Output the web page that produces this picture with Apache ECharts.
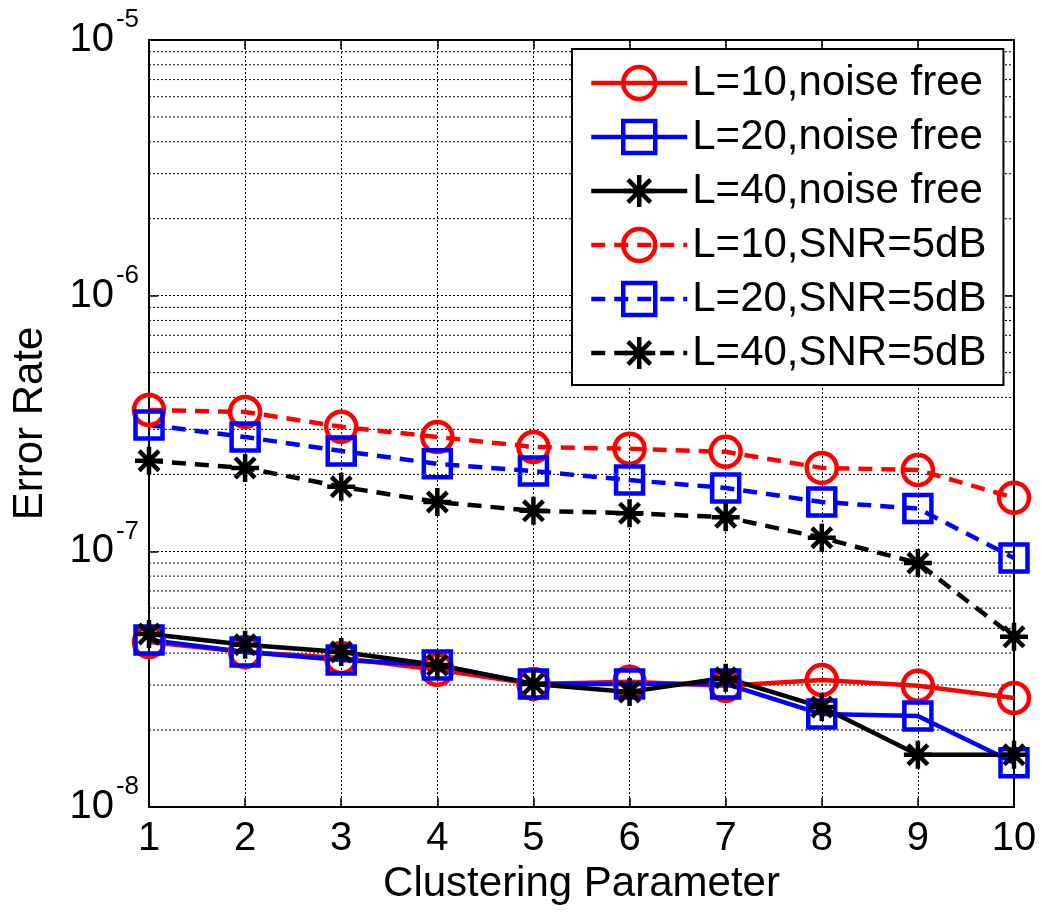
<!DOCTYPE html>
<html>
<head>
<meta charset="utf-8">
<script src="https://cdn.jsdelivr.net/npm/echarts@6/dist/echarts.min.js"></script>
<style>
html,body{margin:0;padding:0;background:#fff;}
#chart{width:1042px;height:915px;}
</style>
</head>
<body>
<div id="chart"></div>
<script>
const xValues = [1, 2, 3, 4, 5, 6, 7, 8, 9, 10];
const l10Free = [4.42e-8, 4.04e-8, 3.83e-8, 3.44e-8, 3.03e-8, 3.09e-8, 2.98e-8, 3.14e-8, 2.98e-8, 2.67e-8];
const l20Free = [4.50e-8, 4.04e-8, 3.76e-8, 3.59e-8, 3.03e-8, 3.03e-8, 3.03e-8, 2.31e-8, 2.27e-8, 1.49e-8];
const l40Free = [4.75e-8, 4.31e-8, 4.04e-8, 3.59e-8, 3.03e-8, 2.82e-8, 3.20e-8, 2.46e-8, 1.60e-8, 1.60e-8];
const l10Snr = [3.57e-7, 3.51e-7, 3.07e-7, 2.80e-7, 2.56e-7, 2.52e-7, 2.45e-7, 2.12e-7, 2.08e-7, 1.62e-7];
const l20Snr = [3.12e-7, 2.80e-7, 2.47e-7, 2.20e-7, 2.06e-7, 1.90e-7, 1.77e-7, 1.56e-7, 1.47e-7, 9.42e-8];
const l40Snr = [2.26e-7, 2.12e-7, 1.79e-7, 1.56e-7, 1.44e-7, 1.41e-7, 1.36e-7, 1.13e-7, 9.0e-8, 4.63e-8];
const seriesNames = ['L=10,noise free', 'L=20,noise free', 'L=40,noise free',
                     'L=10,SNR=5dB', 'L=20,SNR=5dB', 'L=40,SNR=5dB'];
const decades = [1e-8, 1e-7, 1e-6];
const minorMultipliers = [2, 3, 4, 5, 6, 7, 8, 9];

const FONT = '"Liberation Sans", Arial, sans-serif';
const RED = '#ff0000', BLUE = '#0000ff', BLACK = '#000000';
const STAR = 'path://M0,-10L0,10M-10,0L10,0M-7.07,-7.07L7.07,7.07M-7.07,7.07L7.07,-7.07';

function pairs(arr) { return xValues.map((x, i) => [x, arr[i]]); }

function mkSeries(name, arr, color, symbol, dashed) {
  const isStar = symbol === STAR;
  return {
    name: name,
    type: 'line',
    data: pairs(arr),
    yAxisIndex: 0,
    symbol: symbol,
    symbolSize: isStar ? 28 : (symbol === 'rect' ? 27 : 30),
    showAllSymbol: true,
    z: 3,
    lineStyle: { color: color, width: 4.5, type: dashed ? [14, 9] : 'solid' },
    itemStyle: { color: isStar ? color : 'rgba(0,0,0,0)', borderColor: color, borderWidth: 4.5 },
    emphasis: { disabled: true },
    animation: false
  };
}

// minor (log) grid lines: one dotted horizontal line per minor value, spanning the x range
const xMin = xValues[0], xMax = xValues[xValues.length - 1];
const minorSeries = [];
decades.forEach(d => minorMultipliers.forEach(m => {
  const v = d * m;
  minorSeries.push({
    type: 'line', data: [[xMin, v], [xMax, v]], yAxisIndex: 0,
    symbol: 'none', silent: true, z: 1, animation: false,
    lineStyle: { color: '#000', width: 1, type: [2, 2] },
    emphasis: { disabled: true }, tooltip: { show: false }
  });
}));

const gridDotted = { show: true, lineStyle: { color: '#000', width: 1, type: [2, 2] } };
const tickStyle = { show: true, inside: true, length: 9, lineStyle: { color: '#000', width: 1.5 } };

const option = {
  backgroundColor: '#fff',
  animation: false,
  grid: { left: 149, right: 28, top: 40, bottom: 108, show: true, borderColor: '#000', borderWidth: 2, backgroundColor: 'transparent' },
  xAxis: [{
    type: 'value', min: 1, max: 10, interval: 1,
    name: 'Clustering Parameter', nameLocation: 'middle', nameGap: 52,
    nameTextStyle: { fontSize: 42, fontFamily: FONT, color: '#000' },
    axisLine: { show: true, lineStyle: { color: '#000', width: 2 } },
    axisTick: tickStyle,
    axisLabel: { fontSize: 40, fontFamily: FONT, color: '#000', margin: 12 },
    splitLine: gridDotted
  }, {
    type: 'value', min: 1, max: 10, interval: 1, position: 'top',
    axisLine: { show: true, lineStyle: { color: '#000', width: 2 } },
    axisTick: tickStyle,
    axisLabel: { show: false }, splitLine: { show: false }
  }],
  yAxis: [{
    type: 'log', logBase: 10, min: 1e-8, max: 1e-5, position: 'left',
    name: 'Error Rate', nameLocation: 'middle', nameGap: 98,
    nameTextStyle: { fontSize: 42, fontFamily: FONT, color: '#000' },
    axisLine: { show: true, lineStyle: { color: '#000', width: 2 } },
    axisTick: tickStyle,
    axisLabel: {
      margin: 35, fontSize: 40, fontFamily: FONT, color: '#000',
      formatter: function () { return '10'; }
    },
    splitLine: gridDotted
  }, {
    type: 'log', logBase: 10, min: 1e-8, max: 1e-5, position: 'left',
    axisLine: { show: false }, axisTick: { show: false }, splitLine: { show: false },
    axisLabel: {
      margin: 10,
      formatter: function (v) { return '{e|' + Math.round(Math.log10(v)) + '}'; },
      rich: { e: { fontSize: 26, fontFamily: FONT, color: '#000', lineHeight: 26, padding: [0, 0, 40, 0] } }
    }
  }, {
    type: 'log', logBase: 10, min: 1e-8, max: 1e-5, position: 'right',
    axisLine: { show: true, lineStyle: { color: '#000', width: 2 } },
    axisTick: tickStyle,
    axisLabel: { show: false }, splitLine: { show: false }
  }],
  legend: {
    data: seriesNames,
    orient: 'vertical',
    left: 572, top: 49,
    padding: [13, 17, 11, 17],
    itemWidth: 96, itemHeight: 40, itemGap: 12,
    backgroundColor: '#fff',
    borderColor: '#000', borderWidth: 2, borderRadius: 0,
    lineStyle: { width: 4.5 },
    itemStyle: { borderWidth: 4.5 },
    textStyle: { fontSize: 42, fontFamily: FONT, color: '#000' },
    selectedMode: false
  },
  series: minorSeries.concat([
    mkSeries(seriesNames[0], l10Free, RED, 'circle', false),
    mkSeries(seriesNames[1], l20Free, BLUE, 'rect', false),
    mkSeries(seriesNames[2], l40Free, BLACK, STAR, false),
    mkSeries(seriesNames[3], l10Snr, RED, 'circle', true),
    mkSeries(seriesNames[4], l20Snr, BLUE, 'rect', true),
    mkSeries(seriesNames[5], l40Snr, BLACK, STAR, true)
  ])
};

const chart = echarts.init(document.getElementById('chart'), null, { renderer: 'canvas' });
chart.setOption(option);
</script>
</body>
</html>
